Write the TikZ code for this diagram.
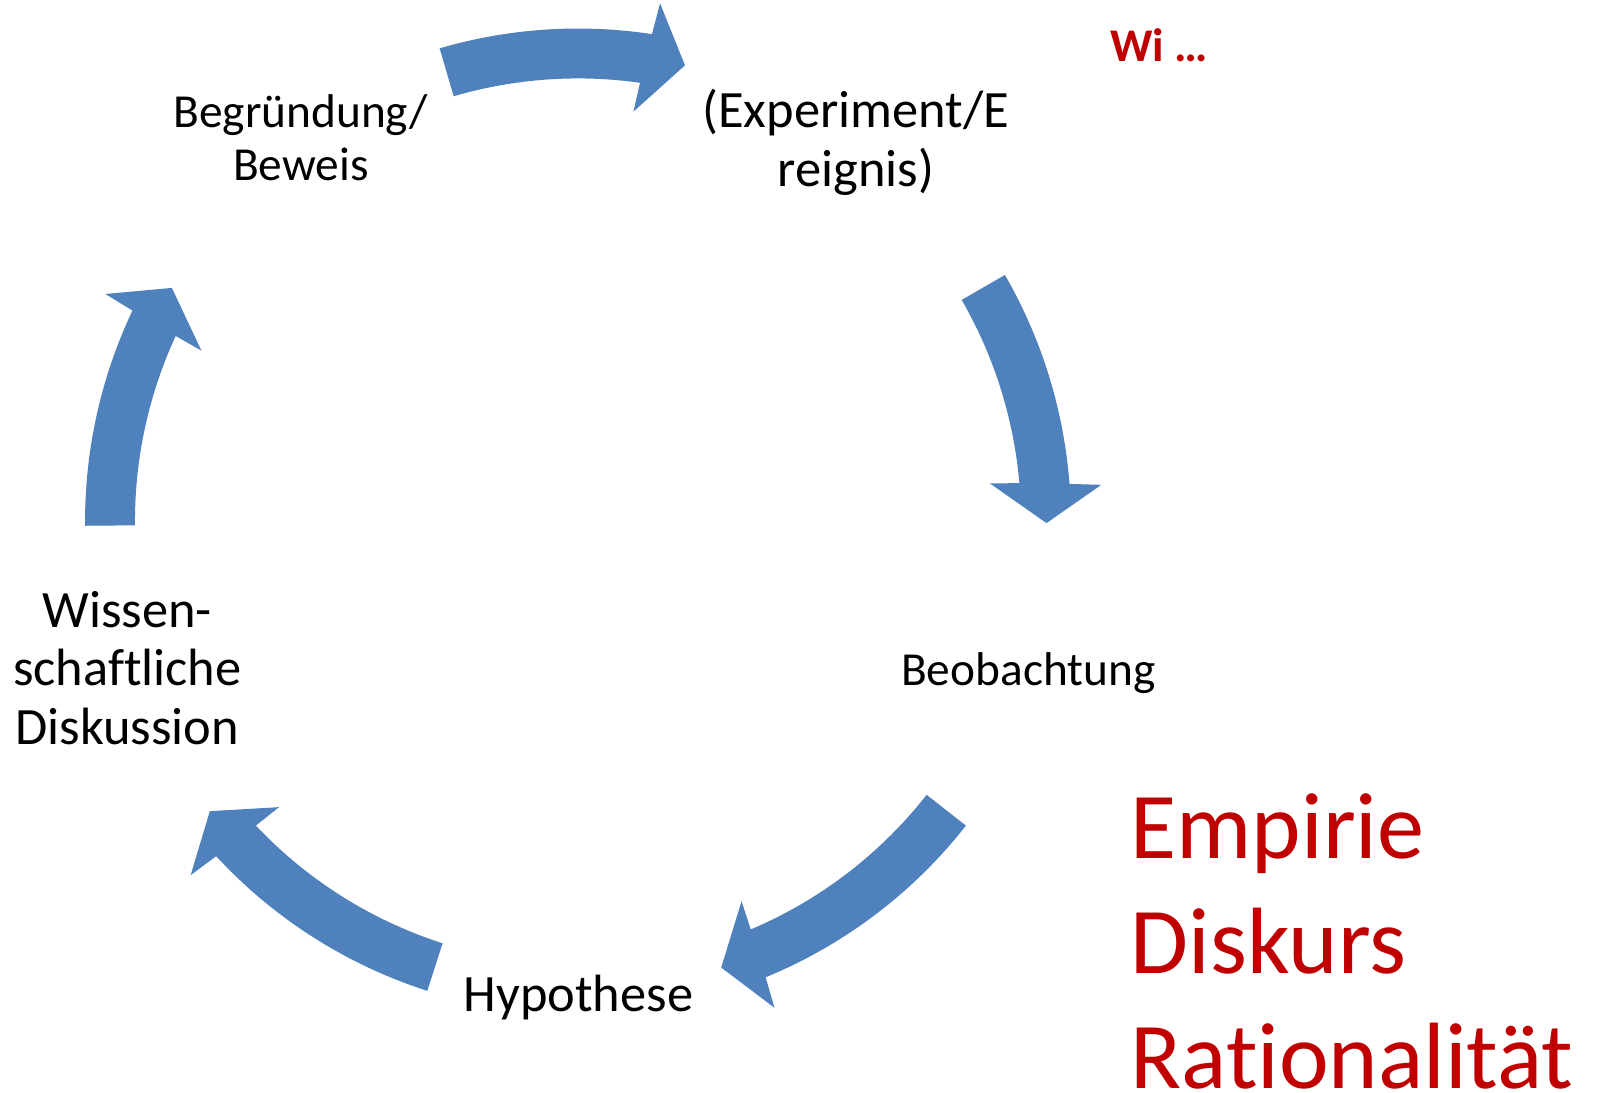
\documentclass[tikz,border=0pt]{standalone}
\usepackage{fontspec}
\setmainfont{Carlito}[Ligatures=CommonOff]
\definecolor{arrowblue}{HTML}{4F81BD}
\definecolor{textred}{HTML}{C00000}
\begin{document}
\begin{tikzpicture}[x=1pt,y=1pt,
  lbl/.style={anchor=base, align=center, inner sep=0pt, text=black},
  smallfont/.style={font=\fontsize{46.5}{52}\selectfont},
  bigfont/.style={font=\fontsize{51.5}{57.5}\selectfont},
  redtxt/.style={anchor=base west, inner sep=0pt, text=textred, font=\fontsize{92.5}{112}\selectfont},
  cyclearrow/.style={fill=arrowblue, draw=none}]
\useasboundingbox (0,0) rectangle (1568,1073);
\fill[white] (0,0) rectangle (1568,1073);

% circular block arrows (centre of the cycle)
\begin{scope}[shift={(567.5,561)}]
\foreach \t/\p in {106.3/76.8, 30/-0.2, -38.1/-72.2, 252.2/218.2, 180.5/150.1}{
  \fill[cyclearrow] (\t:484pt) arc[start angle=\t, end angle=\p+4.57, radius=484pt]
     -- ({\p+4.2}:515pt) -- (\p:460pt) -- ({\p+5.5}:406pt) -- ({\p+5.15}:435pt)
     arc[start angle=\p+5.15, end angle=\t, radius=435pt] -- cycle;
}
\end{scope}

% base anchor of a multi-line node = baseline of its last line
\node[lbl, smallfont] (beg) at (295.4, 895.5) {Begründung/\\Beweis};
\node[lbl, bigfont] (exp) at (840.3, 890) {(Experiment/E\\reignis)};
\node[lbl, smallfont] (beo) at (1009.6, 400.3) {Beobachtung};
\node[lbl, bigfont] (hyp) at (568, 80) {Hypothese};
\node[lbl, bigfont] (wis) at (125, 342) {Wissen-\\schaftliche\\Diskussion};

\node[anchor=base west, inner sep=0pt, text=textred, font=\fontsize{46}{52}\selectfont\bfseries] (wi) at (1090, 1012.7) {Wi …};

\node[redtxt] (emp) at (1110, 229.6) {Empirie};
\node[redtxt] (dis) at (1110, 117.3) {Diskurs};
\node[redtxt] (rat) at (1110, 4.4) {Rationalität};
\end{tikzpicture}
\end{document}
